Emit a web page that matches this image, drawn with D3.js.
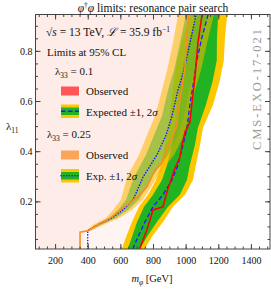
<!DOCTYPE html>
<html><head><meta charset="utf-8">
<script src="https://cdn.jsdelivr.net/npm/d3@7"></script>
<style>
body { margin: 0; background: #fff; }
text { font-family: "Liberation Serif", serif; fill: #111; }
</style>
</head><body><div id="chart"></div>
<script>
var width = 271, height = 289;
var plotL = 35.5, plotR = 270, plotT = 14.5, plotB = 249;

// lambda_33 = 0.1 : expected limit and bands (mass in GeV vs lambda_11)
var lam01 = [0.01, 0.06, 0.118, 0.178, 0.226, 0.285, 0.345, 0.425, 0.492, 0.584, 0.68, 0.763, 0.854, 0.95];
var exp01 = [676, 709, 751, 800, 861, 916, 953, 984, 1008, 1026, 1050, 1069, 1100, 1140];
var lo2s01 = [609, 636, 671, 714, 769, 818, 849, 874, 898, 910, 928, 947, 984, 1030];
var lo1s01 = [645, 672, 702, 745, 800, 855, 886, 917, 935, 953, 970, 989, 1027, 1079];
var hi1s01 = [719, 764, 824, 892, 965, 1008, 1026, 1057, 1075, 1124, 1166, 1191, 1192, 1200];
var hi2s01 = [749, 795, 861, 922, 996, 1045, 1063, 1088, 1106, 1167, 1209, 1234, 1241, 1256];
var obs01 = [[0.01, 718], [0.087, 763], [0.166, 800], [0.178, 861], [0.238, 886], [0.274, 904], [0.333, 935],
  [0.377, 965], [0.425, 978], [0.476, 996], [0.516, 1026], [0.592, 1039], [0.695, 1057], [0.83, 1075], [0.95, 1102]];

// lambda_33 = 0.25
var lam025 = [0.01, 0.083, 0.107, 0.134, 0.166, 0.206, 0.297, 0.385, 0.464, 0.54, 0.643, 0.723, 0.83, 0.95];
var exp025 = [400, 400, 463, 549, 616, 678, 739, 824, 880, 916, 953, 990, 1026, 1066];
var lamBand025 = [0.083, 0.107, 0.134, 0.166, 0.206, 0.297, 0.385, 0.464, 0.54, 0.643, 0.723, 0.83, 0.95];
var lo2s025 = [390, 433, 512, 555, 604, 641, 714, 763, 812, 855, 886, 922, 955];
var lo1s025 = [396, 451, 531, 586, 635, 684, 757, 806, 855, 892, 929, 965, 1004];
var hi1s025 = [408, 482, 573, 647, 714, 794, 892, 953, 990, 1020, 1057, 1094, 1139];
var hi2s025 = [420, 500, 592, 671, 739, 824, 929, 990, 1026, 1057, 1094, 1131, 1175];
var obs025 = [[0.01, 353], [0.077, 353], [0.083, 402], [0.111, 475], [0.138, 549], [0.174, 616], [0.218, 708],
  [0.258, 763], [0.325, 812], [0.353, 855], [0.417, 892], [0.492, 941], [0.604, 965], [0.735, 996], [0.87, 1008], [0.95, 1021]];

var xTicks = [200, 400, 600, 800, 1000, 1200, 1400];
var yTicks = [0.2, 0.4, 0.6, 0.8];

var x = d3.scaleLinear().domain([80, 1517]).range([plotL, plotR]);
var y = d3.scaleLinear().domain([0.01, 0.945]).range([plotB, plotT]);

var svg = d3.select("#chart").append("svg")
  .attr("width", width).attr("height", height);

svg.append("clipPath").attr("id", "clip").append("rect")
  .attr("x", plotL).attr("y", plotT).attr("width", plotR - plotL).attr("height", plotB - plotT);

var plot = svg.append("g").attr("clip-path", "url(#clip)");

function band(lams, lo, hi) {
  return lams.map(function (l, i) { return { l: l, lo: lo[i], hi: hi[i] }; });
}
var area = d3.area().y(function (d) { return y(d.l); })
  .x0(function (d) { return x(d.lo); }).x1(function (d) { return x(d.hi); });
var line = d3.line().y(function (d) { return y(d[0]); }).x(function (d) { return x(d[1]); });

// excluded regions
[obs01, obs025].forEach(function (obs) {
  plot.append("path")
    .datum(obs.map(function (d) { return { l: d[0], lo: 80, hi: d[1] }; }))
    .attr("d", area).attr("fill", "#f4a08a").attr("opacity", 0.1);
});

// bands, lambda_33 = 0.1
plot.append("path").datum(band(lam01, lo2s01, hi2s01)).attr("d", area).attr("fill", "#fdc700");
plot.append("path").datum(band(lam01, lo1s01, hi1s01)).attr("d", area).attr("fill", "#22b322");
// bands, lambda_33 = 0.25
plot.append("path").datum(band(lamBand025, lo2s025, hi2s025)).attr("d", area)
  .attr("fill", "#ffb700").attr("opacity", 0.55);
plot.append("path").datum(band(lamBand025, lo1s025, hi1s025)).attr("d", area)
  .attr("fill", "#5cb82a").attr("opacity", 0.55);

plot.append("path").datum(lam01.map(function (l, i) { return [l, exp01[i]]; }))
  .attr("d", line).attr("fill", "none").attr("stroke", "#1a1aff").attr("stroke-width", 1.3)
  .attr("stroke-dasharray", "4.5,2.5");
plot.append("path").datum(lam025.map(function (l, i) { return [l, exp025[i]]; }))
  .attr("d", line).attr("fill", "none").attr("stroke", "#1a1aff").attr("stroke-width", 1.6)
  .attr("stroke-linecap", "round").attr("stroke-dasharray", "0.1,2.7");
plot.append("path").datum(obs025).attr("d", line).attr("fill", "none")
  .attr("stroke", "#ff8a1e").attr("stroke-width", 1.6);
plot.append("path").datum(obs01).attr("d", line).attr("fill", "none")
  .attr("stroke", "#ff0000").attr("stroke-width", 1.6);

// axes with inward ticks
var minorX = d3.range(100, 1501, 50), minorY = d3.range(0.05, 0.95, 0.05);
function axes(g, axis, scale, major, minor, fmt) {
  g.call(axis(scale).tickValues(minor).tickSize(-2.5).tickFormat(""));
  var gm = g.append("g").call(axis(scale).tickValues(major).tickSize(-5).tickPadding(fmt ? 8 : 0)
    .tickFormat(fmt || ""));
  g.selectAll(".domain").remove();
  g.selectAll("line").attr("stroke", "#444");
  return gm;
}
var gx = svg.append("g").attr("transform", "translate(0," + plotB + ")");
axes(gx, d3.axisBottom, x, xTicks, minorX, d3.format("d")).selectAll("text")
  .attr("font-size", 10).attr("font-family", "Liberation Serif").attr("fill", "#111");
var gxt = svg.append("g").attr("transform", "translate(0," + plotT + ")");
axes(gxt, d3.axisTop, x, xTicks, minorX, null);
var gy = svg.append("g").attr("transform", "translate(" + plotL + ",0)");
axes(gy, d3.axisLeft, y, yTicks, minorY, d3.format(".1f")).selectAll("text")
  .attr("x", -3).attr("font-size", 10).attr("font-family", "Liberation Serif").attr("fill", "#111");
var gyr = svg.append("g").attr("transform", "translate(" + plotR + ",0)");
axes(gyr, d3.axisRight, y, yTicks, minorY, null);

svg.append("rect").attr("x", plotL).attr("y", plotT).attr("width", plotR - plotL).attr("height", plotB - plotT)
  .attr("fill", "none").attr("stroke", "#444").attr("stroke-width", 1);

// titles
var title = svg.append("text").attr("x", 153).attr("y", 11.5).attr("text-anchor", "middle").attr("font-size", 11.5);
title.append("tspan").attr("font-style", "italic").text("φ");
title.append("tspan").attr("dy", -3.5).attr("font-size", 7.5).text("†");
title.append("tspan").attr("dy", 3.5).attr("font-style", "italic").text("φ");
title.append("tspan").text(" limits: resonance pair search");

var xl = svg.append("text").attr("x", 152).attr("y", 282).attr("text-anchor", "middle").attr("font-size", 10.5);
xl.append("tspan").attr("font-style", "italic").text("m");
xl.append("tspan").attr("dy", 2.5).attr("font-size", 7.5).attr("font-style", "italic").text("φ");
xl.append("tspan").attr("dy", -2.5).text(" [GeV]");

var yl = svg.append("text").attr("x", 6).attr("y", 130).attr("font-size", 11);
yl.append("tspan").text("λ");
yl.append("tspan").attr("dy", 2.5).attr("font-size", 7.5).text("11");

svg.append("text").attr("transform", "translate(260.5,150) rotate(-90)").attr("font-size", 12.5)
  .attr("textLength", 121).attr("lengthAdjust", "spacing").style("fill", "#999").text("CMS-EXO-17-021");

// annotations
var t1 = svg.append("text").attr("x", 46).attr("y", 36).attr("font-size", 11.5);
t1.append("tspan").text("√");
t1.append("tspan").attr("font-style", "italic").text("s");
t1.append("tspan").text(" = 13 TeV,  ");
t1.append("tspan").attr("font-style", "italic").text("ℒ");
t1.append("tspan").text(" = 35.9 fb");
t1.append("tspan").attr("dy", -4).attr("font-size", 7.5).text("−1");

svg.append("text").attr("x", 47).attr("y", 56).attr("font-size", 11).text("Limits at 95% CL");

function lamLabel(xp, yp, v) {
  var t = svg.append("text").attr("x", xp).attr("y", yp).attr("font-size", 11);
  t.append("tspan").text("λ");
  t.append("tspan").attr("dy", 2.5).attr("font-size", 7.5).text("33");
  t.append("tspan").attr("dy", -2.5).text(" = " + v);
}
lamLabel(55, 75, "0.1");
lamLabel(47, 138, "0.25");

function obsBox(yp, color) {
  svg.append("rect").attr("x", 61).attr("y", yp).attr("width", 18).attr("height", 9).attr("fill", color);
}
function expBox(yp, dash, sw) {
  svg.append("rect").attr("x", 61).attr("y", yp).attr("width", 18).attr("height", 13.5).attr("fill", "#fdc700");
  svg.append("rect").attr("x", 61).attr("y", yp + 3).attr("width", 18).attr("height", 7.5).attr("fill", "#22b322");
  svg.append("line").attr("x1", 61).attr("x2", 79).attr("y1", yp + 6.75).attr("y2", yp + 6.75)
    .attr("stroke", "#1a1aff").attr("stroke-width", sw).attr("stroke-dasharray", dash)
    .attr("stroke-linecap", dash === "4.5,2.5" ? "butt" : "round");
}
obsBox(86.5, "#ff5555");
expBox(104.5, "4.5,2.5", 1.3);
obsBox(150.5, "#fca55a");
expBox(169, "0.1,2.7", 1.6);

function legText(yp, parts) {
  var t = svg.append("text").attr("x", 86).attr("y", yp).attr("font-size", 11);
  parts.forEach(function (p) {
    t.append("tspan").attr("font-style", p[1] ? "italic" : null).text(p[0]);
  });
}
legText(95, [["Observed"]]);
legText(115.5, [["Expected ±1, 2"], ["σ", true]]);
legText(159, [["Observed"]]);
legText(180, [["Exp. ±1, 2"], ["σ", true]]);
</script></body></html>
